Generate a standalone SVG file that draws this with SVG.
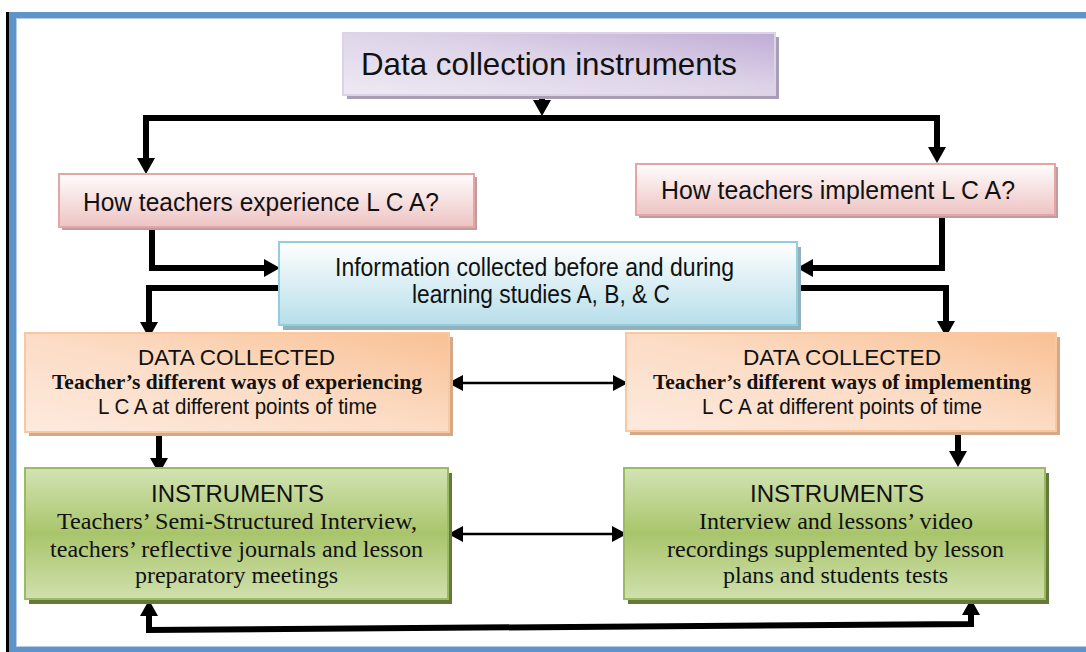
<svg xmlns="http://www.w3.org/2000/svg" width="1086" height="652" viewBox="0 0 1086 652">
<defs>
<linearGradient id="gTitle" x1="0" y1="1" x2="1" y2="0"><stop offset="0" stop-color="#eeeaf4"/><stop offset="0.55" stop-color="#ddd3e8"/><stop offset="1" stop-color="#c0acd5"/></linearGradient>
<linearGradient id="gPink" x1="0" y1="0" x2="0" y2="1"><stop offset="0" stop-color="#fffdfd"/><stop offset="1" stop-color="#eec3c3"/></linearGradient>
<linearGradient id="gBlue" x1="0" y1="0" x2="0" y2="1"><stop offset="0" stop-color="#ffffff"/><stop offset="1" stop-color="#b6deea"/></linearGradient>
<linearGradient id="gOrange" x1="0" y1="1" x2="1" y2="0"><stop offset="0" stop-color="#fdeade"/><stop offset="0.5" stop-color="#fcdcc5"/><stop offset="1" stop-color="#f9c093"/></linearGradient>
<linearGradient id="gGreen" x1="0" y1="0" x2="0" y2="1"><stop offset="0" stop-color="#d3e3b4"/><stop offset="0.5" stop-color="#a9c56b"/><stop offset="1" stop-color="#d0e0ad"/></linearGradient>
<marker id="ah" markerUnits="userSpaceOnUse" markerWidth="16" markerHeight="18" refX="0" refY="9" orient="auto-start-reverse" overflow="visible"><path d="M0,0 L16,9 L0,18 z" fill="#000"/></marker>
<marker id="ahs" markerUnits="userSpaceOnUse" markerWidth="15" markerHeight="16" refX="0" refY="8" orient="auto-start-reverse" overflow="visible"><path d="M0,0 L15,8 L0,16 z" fill="#000"/></marker>
</defs>
<style>
.sans{font-family:"Liberation Sans",Arial,sans-serif;fill:#111;}
.serif{font-family:"Liberation Serif","Times New Roman",serif;fill:#111;}
.b{font-weight:bold;}
.thick{fill:none;stroke:#000;stroke-width:6;stroke-linejoin:miter;marker-end:url(#ah);}
.thin{fill:none;stroke:#000;stroke-width:2.5;marker-start:url(#ahs);marker-end:url(#ahs);}
</style>
<rect width="1086" height="652" fill="#fff"/>
<g id="frame">
<rect x="10" y="12" width="1076" height="6" fill="#5e94c8"/>
<rect x="10" y="18" width="1076" height="1" fill="#b3cce8"/>
<rect x="9" y="12" width="7" height="640" fill="#5e94c8"/>
<rect x="16" y="18" width="1" height="628" fill="#b3cce8"/>
<rect x="6" y="12" width="3" height="640" fill="#000"/>
<rect x="9" y="647" width="1077" height="5" fill="#5e94c8"/>
<rect x="16" y="646" width="1070" height="1" fill="#b3cce8"/>
</g>
<g id="connectors">
<path class="thick" d="M542,95 V100"/>
<path class="thick" d="M542,118 H146 V158"/>
<path class="thick" d="M542,118 H937 V147"/>
<path class="thick" d="M152,227 V268 H264"/>
<path class="thick" d="M942,215 V268 H813"/>
<path class="thick" d="M279,288 H149 V322"/>
<path class="thick" d="M797,288 H946 V321"/>
<path class="thick" d="M159,432 V458"/>
<path class="thick" d="M958,431 V451"/>
<path class="thick" style="marker-start:url(#ah)" d="M149,616 V630 L971,624 V615"/>
<path class="thin" d="M463,383 H613"/>
<path class="thin" d="M463,534 H612"/>
</g>
<g id="title">
<rect x="347" y="37" width="432" height="62" fill="#a89eb5"/>
<rect x="343" y="33" width="432" height="62" fill="url(#gTitle)" stroke="#dcd4e6" stroke-width="2"/>
<text class="sans" x="361" y="75" font-size="32" textLength="376" lengthAdjust="spacingAndGlyphs">Data collection instruments</text>
</g>
<g id="q-experience">
<rect x="62" y="177" width="415" height="53" fill="#c29c9c"/>
<rect x="59" y="174" width="415" height="53" fill="url(#gPink)" stroke="#e3a5a5" stroke-width="2"/>
<text class="sans" x="83" y="211" font-size="26" textLength="356" lengthAdjust="spacingAndGlyphs">How teachers experience L C A?</text>
</g>
<g id="q-implement">
<rect x="639" y="167" width="419" height="51" fill="#c29c9c"/>
<rect x="636" y="164" width="419" height="51" fill="url(#gPink)" stroke="#e3a5a5" stroke-width="2"/>
<text class="sans" x="661" y="199" font-size="26" textLength="354" lengthAdjust="spacingAndGlyphs">How teachers implement L C A?</text>
</g>
<g id="info">
<rect x="283" y="247" width="518" height="83" fill="#91b2bb"/>
<rect x="279" y="242" width="518" height="83" fill="url(#gBlue)" stroke="#92cedd" stroke-width="2"/>
<text class="sans" x="335" y="276" font-size="25" textLength="399" lengthAdjust="spacingAndGlyphs">Information collected before and during</text>
<text class="sans" x="412" y="303" font-size="25" textLength="258" lengthAdjust="spacingAndGlyphs">learning studies A, B, &amp; C</text>
</g>
<g id="data-experiencing">
<rect x="29" y="337" width="424" height="99" fill="#d5a985"/>
<rect x="25" y="333" width="424" height="99" fill="url(#gOrange)" stroke="#f9c8a0" stroke-width="2"/>
<text class="sans" x="138" y="365" font-size="22" textLength="197" lengthAdjust="spacingAndGlyphs">DATA COLLECTED</text>
<text class="serif b" x="52" y="389" font-size="22" textLength="370" lengthAdjust="spacingAndGlyphs">Teacher’s different ways of experiencing</text>
<text class="sans" x="98" y="414" font-size="22" textLength="279" lengthAdjust="spacingAndGlyphs">L C A at different points of time</text>
</g>
<g id="data-implementing">
<rect x="630" y="337" width="430" height="98" fill="#d5a985"/>
<rect x="626" y="333" width="430" height="98" fill="url(#gOrange)" stroke="#f9c8a0" stroke-width="2"/>
<text class="sans" x="743" y="365" font-size="22" textLength="198" lengthAdjust="spacingAndGlyphs">DATA COLLECTED</text>
<text class="serif b" x="653" y="389" font-size="22" textLength="378" lengthAdjust="spacingAndGlyphs">Teacher’s different ways of implementing</text>
<text class="sans" x="702" y="414" font-size="22" textLength="280" lengthAdjust="spacingAndGlyphs">L C A at different points of time</text>
</g>
<g id="instruments-experiencing">
<rect x="29" y="473" width="423" height="131" fill="#65793a"/>
<rect x="25" y="468" width="423" height="131" fill="url(#gGreen)" stroke="#9cba62" stroke-width="2"/>
<text class="sans" x="151" y="502" font-size="23" textLength="173" lengthAdjust="spacingAndGlyphs">INSTRUMENTS</text>
<text class="serif" x="57" y="529" font-size="24" textLength="360" lengthAdjust="spacingAndGlyphs">Teachers’ Semi-Structured Interview,</text>
<text class="serif" x="50" y="557" font-size="24" textLength="373" lengthAdjust="spacingAndGlyphs">teachers’ reflective journals and lesson</text>
<text class="serif" x="135" y="583" font-size="24" textLength="203" lengthAdjust="spacingAndGlyphs">preparatory meetings</text>
</g>
<g id="instruments-implementing">
<rect x="628" y="473" width="421" height="131" fill="#65793a"/>
<rect x="624" y="468" width="421" height="131" fill="url(#gGreen)" stroke="#9cba62" stroke-width="2"/>
<text class="sans" x="750" y="502" font-size="23" textLength="174" lengthAdjust="spacingAndGlyphs">INSTRUMENTS</text>
<text class="serif" x="699" y="529" font-size="24" textLength="274" lengthAdjust="spacingAndGlyphs">Interview and lessons’ video</text>
<text class="serif" x="667" y="557" font-size="24" textLength="337" lengthAdjust="spacingAndGlyphs">recordings supplemented by lesson</text>
<text class="serif" x="723" y="583" font-size="24" textLength="225" lengthAdjust="spacingAndGlyphs">plans and students tests</text>
</g>
</svg>
